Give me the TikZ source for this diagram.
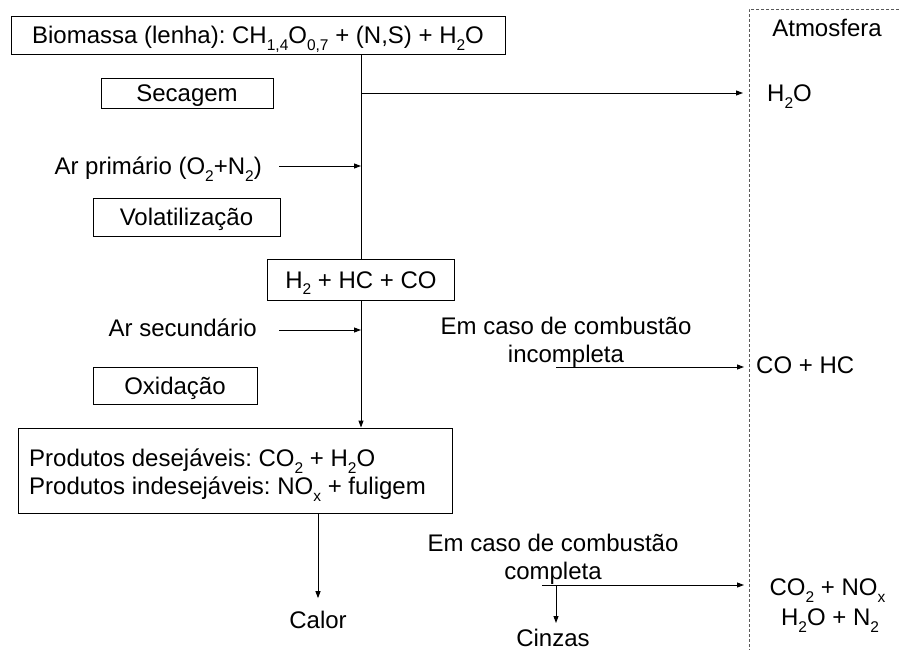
\documentclass[tikz,border=0pt]{standalone}
\usepackage{fontspec}
\setmainfont{Liberation Sans}
\usetikzlibrary{arrows.meta}
\newcommand{\chs}[1]{\raisebox{-6.5pt}{\fontsize{15.5}{16}\selectfont #1}}
\frenchspacing
\begin{document}
\begin{tikzpicture}[x=1pt,y=-1pt,
  every node/.style={font=\fontsize{24}{28}\selectfont\frenchspacing, inner sep=0pt},
  txt/.style={text height=17.2pt, text depth=0pt},
  stepbox/.style={draw, line width=0.9pt, txt},
  flow/.style={line width=0.9pt, -{Triangle[length=7pt,width=5pt]}},
  plain/.style={line width=0.9pt},
  atm/.style={draw=black!65, line width=0.8pt, dash pattern=on 3pt off 2pt}]
\path[use as bounding box, fill=white] (0,0) rectangle (899,650);

% atmosphere boundary
\draw[atm] (899,9) -- (749,9) -- (749,650);
\node[txt] (atmos) at (827,28) {Atmosfera};

% main boxes
\node[stepbox, minimum width=494pt, minimum height=38pt] (top) at (258,35)
  {Biomassa (lenha): CH\chs{1,4}O\chs{0,7} + (N,S) + H\chs{2}O};
\node[stepbox, minimum width=172pt, minimum height=30pt] (sec) at (187,93) {Secagem};
\node[stepbox, minimum width=187pt, minimum height=38pt] (vol) at (186.5,217) {Volatiliza\c{c}\~{a}o};
\node[stepbox, minimum width=187pt, minimum height=41pt] (hbox) at (361,279.5)
  {H\chs{2} + HC + CO};
\node[stepbox, minimum width=164pt, minimum height=37pt] (oxi) at (175,385.5) {Oxida\c{c}\~{a}o};
\node[draw, line width=0.9pt, minimum width=434pt, minimum height=85pt] (prod) at (235,470.5) {};
\node[align=left, anchor=west] (prodtxt) at (29,475)
  {Produtos desej\'{a}veis: CO\chs{2} + H\chs{2}O\\
   Produtos indesej\'{a}veis: NO\chs{x} + fuligem};

% side labels
\node[txt, anchor=east] (arprim) at (262,166) {Ar prim\'{a}rio (O\chs{2}+N\chs{2})};
\node[txt, anchor=east] (arsec) at (257,328) {Ar secund\'{a}rio};
\node[align=center] (incomp) at (566,342) {Em caso de combust\~{a}o\\incompleta};
\node[align=center] (comp) at (553,559) {Em caso de combust\~{a}o\\completa};
\node[txt] (calor) at (318,620) {Calor};
\node[txt] (cinzas) at (553,638) {Cinzas};

% atmosphere products
\node[txt, anchor=west] (h2o) at (767,93) {H\chs{2}O};
\node[txt, anchor=west] (cohc) at (756,365) {CO + HC};
\node[txt] (conox) at (827.5,587) {CO\chs{2} + NO\chs{x}};
\node[txt] (hono) at (830,617) {H\chs{2}O + N\chs{2}};

% coordinates for branch points and free ends
\coordinate (br1) at (361,93);
\coordinate (a1) at (743,93);
\coordinate (inc0) at (556,367);
\coordinate (a2) at (744,367);
\coordinate (cmp0) at (542,585);
\coordinate (cmpdn) at (556,585);
\coordinate (a3) at (744,585);

% spine
\draw[plain] (top.south -| hbox.north) -- (hbox.north);
\draw[flow] (hbox.south) -- (prod.north -| hbox.south);
\draw[flow] (br1) -- (a1);
\draw[flow] ([xshift=17pt]arprim.east) -- (arprim.east -| hbox.north);
\draw[flow] ([shift={(22,2)}]arsec.east) -- ([yshift=-2pt]arsec.east -| hbox.north);

% outputs
\draw[flow] (prod.south -| calor) -- ([yshift=13pt]calor.north);
\draw[flow] (inc0) -- (a2);
\draw[flow] (cmp0) -- (a3);
\draw[flow] (cmpdn) -- (cmpdn |- 0,623);
\end{tikzpicture}
\end{document}
